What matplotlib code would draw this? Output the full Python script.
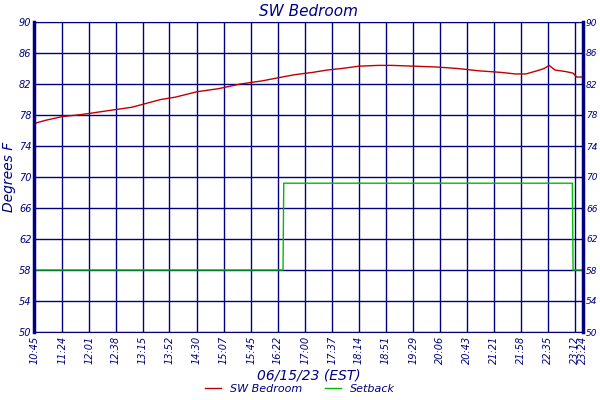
import matplotlib
matplotlib.use("Agg")
import matplotlib.pyplot as plt

def m(s):
    h, mm = map(int, s.split(":"))
    return (h*60+mm) - (10*60+45)

tick_labels = ["10:45","11:24","12:01","12:38","13:15","13:52","14:30","15:07","15:45","16:22",
               "17:00","17:37","18:14","18:51","19:29","20:06","20:43","21:21","21:58","22:35","23:12","23:24"]
red_times = ["10:45","11:00","11:24","11:45","12:01","12:30","13:00","13:20","13:40","14:00","14:30","15:00",
             "15:30","16:00","16:22","16:45","17:10","17:30","17:50","18:14","18:40","19:00","19:30","20:00",
             "20:30","21:00","21:30","21:50","22:05","22:20","22:30","22:37","22:45","23:00","23:10","23:15","23:24"]
red_vals = [76.9,77.3,77.8,78.0,78.2,78.6,79.0,79.5,80.0,80.3,81.0,81.4,
            82.0,82.4,82.8,83.2,83.5,83.8,84.0,84.3,84.4,84.4,84.3,84.2,
            84.0,83.7,83.5,83.3,83.3,83.7,84.0,84.4,83.8,83.6,83.4,82.9,82.9]
green_times = ["10:45","16:29","16:30","23:09","23:10","23:24"]
green_vals = [58.0,58.0,69.2,69.2,58.0,58.0]

navy = "#000080"
fig = plt.figure(figsize=(6,4), dpi=100)
ax = fig.add_axes([0.057, 0.17, 0.915, 0.775])
ax.plot([m(t) for t in red_times], red_vals, color="#c00000", lw=1)
ax.plot([m(t) for t in green_times], green_vals, color="#00bb00", lw=1)
ax.set_xlim(0, m("23:24"))
ax.set_ylim(50, 90)
yt = list(range(50, 91, 4))
ax.set_yticks(yt)
ax.set_xticks([m(t) for t in tick_labels])
ax.set_xticklabels(tick_labels, rotation=90, fontsize=7, color=navy, style="italic")
ax.set_yticklabels([str(v) for v in yt], fontsize=7, color=navy, style="italic")
ax.tick_params(axis="y", which="both", right=True, labelright=True, length=0, pad=2)
ax.tick_params(axis="x", length=0, pad=3)
for lbl in ax.get_yticklabels(which="major"):
    pass
ax.grid(True, color=navy, lw=1)
for s in ax.spines.values():
    s.set_color(navy)
ax.spines["left"].set_linewidth(2.5)
ax.spines["right"].set_linewidth(2.5)
ax.set_title("SW Bedroom", color=navy, style="italic", fontsize=11, pad=4)
ax.set_ylabel("Degrees F", color=navy, style="italic", fontsize=10, labelpad=2)
ax.set_xlabel("06/15/23 (EST)", color=navy, style="italic", fontsize=10, labelpad=3)
fig.legend(["SW Bedroom", "Setback"], loc="lower center", ncol=2, frameon=False,
           handlelength=1.5, bbox_to_anchor=(0.5, -0.01),
           labelcolor=navy, prop={"style": "italic", "size": 8})
fig.canvas.draw()
for t in ax.yaxis.get_ticklabels(which="major"):
    pass
for t in ax.yaxis.majorTicks:
    t.label2.set_fontsize(6.5)
fig.savefig("out.png")
